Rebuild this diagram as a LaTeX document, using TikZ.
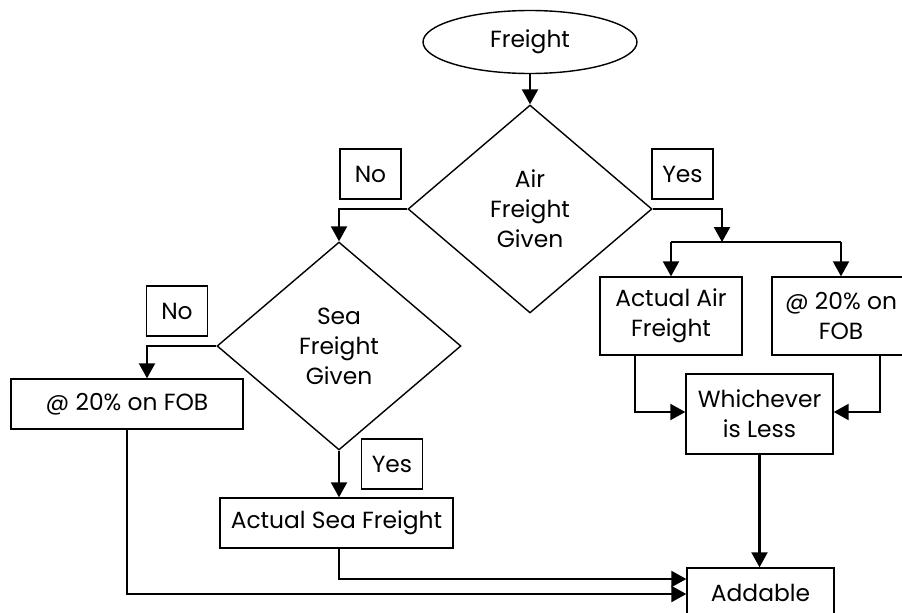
\documentclass[tikz,border=0pt]{standalone}
\usepackage{fontspec}
\setmainfont{Poppins}
\usetikzlibrary{calc}
\usetikzlibrary{shapes.geometric,arrows.meta}

\begin{document}
\begin{tikzpicture}[x=0.02cm, y=-0.02cm,
    font=\fontsize{13.3}{17}\selectfont,
    box/.style={draw, line width=0.8pt, inner sep=0pt, align=center},
    tagbox/.style={box, minimum width=1.22cm, minimum height=1cm},
    decision/.style={draw, diamond, aspect=1.17, line width=0.8pt, inner sep=0pt,
        minimum width=4.88cm, minimum height=4.16cm, align=center},
    arr/.style={line width=1.2pt, -{Triangle[length=0.3cm, width=0.32cm]}},
    conn/.style={line width=1.2pt}]
    \useasboundingbox (0,0) rectangle (902,612);

    % Start and the two questions
    \node[draw, ellipse, line width=0.8pt, inner sep=0pt, minimum width=4.28cm,
        minimum height=1.26cm] (freight) at (530,42) {Freight};
    \node[decision] (air) at (530,209) {Air\\Freight\\Given};
    \node[decision] (sea) at (339,346) {Sea\\Freight\\Given};

    % Yes / No tags
    \node[tagbox] (noair) at (370.5,174) {No};
    \node[tagbox] (yesair) at (682.5,174) {Yes};
    \node[tagbox] (nosea) at (177,311) {No};
    \node[tagbox] (yessea) at (392,464) {Yes};

    % Sea side
    \node[box, minimum width=4.64cm, minimum height=1cm] (fobsea) at (127,404) {@ 20\% on FOB};
    \node[box, minimum width=4.66cm, minimum height=1cm] (actsea) at (336.5,523) {Actual Sea Freight};

    % Air side
    \coordinate (split) at (722,242);
    \node[box, minimum width=2.84cm, minimum height=1.56cm] (actair) at (671,316) {Actual Air\\Freight};
    \node[box, minimum width=2.76cm, minimum height=1.56cm] (fobair) at (841,316) {@ 20\% on\\FOB};
    \node[box, minimum width=2.94cm, minimum height=1.6cm] (less) at (759.5,414) {Whichever\\is Less};

    % End
    \node[box, minimum width=2.94cm, minimum height=1cm] (add) at (760.5,593) {Addable};

    % Connectors
    \draw[arr] (freight) -- (air);
    \draw[arr] (air.west) -| (sea.north);
    \draw[arr] (sea.west) -| ($(fobsea.north)+(20,0)$);
    \draw[arr] (sea.south) -- (sea.south |- actsea.north);
    \draw[arr] (sea.south |- actsea.south) |- ($(add.west)+(0,-14)$);
    \draw[arr] (fobsea.south) |- ($(add.west)+(0,1)$);

    \draw[arr] (air.east) -| (split);
    \draw[conn] (split -| actair.north) -- (split -| fobair.north);
    \draw[arr] (split -| actair.north) -- (actair.north);
    \draw[arr] (split -| fobair.north) -- (fobair.north);
    \draw[arr] ($(actair.south)+(-36,0)$) |- ($(less.west)+(0,-2)$);
    \draw[arr] ($(fobair.south)+(39,0)$) |- ($(less.east)+(0,-2)$);
    \draw[arr] (less.south) -- (less.south |- add.north);
\end{tikzpicture}
\end{document}
